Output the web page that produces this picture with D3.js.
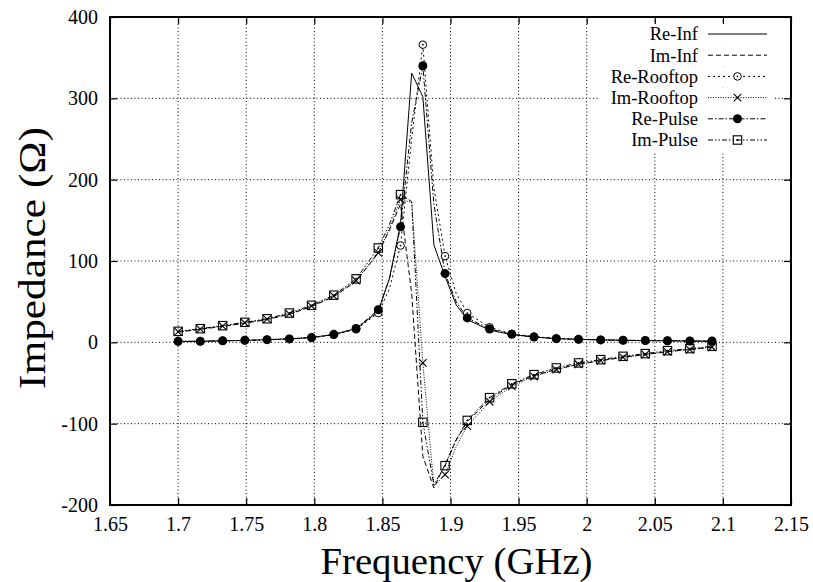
<!DOCTYPE html>
<html>
<head>
<meta charset="utf-8">
<script src="https://cdn.jsdelivr.net/npm/d3@7"></script>
<style>
  body { margin: 0; background: #fff; }
  svg text { font-family: "Liberation Serif", "Times New Roman", serif; fill: #000; }
</style>
</head>
<body>
<svg width="813" height="582"></svg>
<script>
// Data: frequencies (GHz) and impedance (Ohm)
const freq = [1.7, 1.7163, 1.7327, 1.749, 1.7653, 1.7817, 1.798, 1.8143, 1.8307, 1.847,
  1.8552, 1.8633, 1.8715, 1.8797, 1.8878, 1.896, 1.9042, 1.9123, 1.9287, 1.945,
  1.9613, 1.9777, 1.994, 2.0103, 2.0267, 2.043, 2.0593, 2.0757, 2.092];
// frequencies carrying a marker
const markFreq = [1.7, 1.7163, 1.7327, 1.749, 1.7653, 1.7817, 1.798, 1.8143, 1.8307, 1.847,
  1.8633, 1.8797, 1.896, 1.9123, 1.9287, 1.945, 1.9613, 1.9777, 1.994, 2.0103,
  2.0267, 2.043, 2.0593, 2.0757, 2.092];

const reInf = [1, 1.3, 1.8, 2.3, 3.2, 4.3, 6, 9.5, 17, 38, 79, 145, 331, 302, 120, 81, 46, 28, 15, 9.5, 6.5, 4.5, 3.6, 3, 2.5, 2.1, 1.9, 1.6, 1.4];
const imInf = [12.5, 16, 19.5, 23.5, 28, 34.5, 44, 56, 75, 110, 138, 170, 60, -140, -179, -150, -120, -98, -70, -52, -41, -33, -27, -22.5, -18.5, -15, -11.5, -8.8, -6];
const reRooftop = [1.2, 1.3, 1.9, 2.4, 3.2, 4.1, 5.6, 9.2, 16, 36, 66, 119, 250, 366, 190, 106, 60, 36, 18.5, 10.5, 7, 4.8, 3.8, 3.1, 2.6, 2.2, 2, 1.7, 1.5];
const imRooftop = [13, 16.3, 20, 24, 28.5, 35, 44.5, 57, 76, 110, 140, 175.5, 172, -25.3, -177, -162.7, -128, -103, -73, -54, -42, -33.5, -27, -22.5, -18.5, -15, -11.5, -8.8, -6];
const rePulse = [1.2, 1.2, 2, 2.5, 3.3, 4.2, 5.8, 9.8, 17, 40, 78, 142, 270, 340, 170, 84.5, 50, 30, 16.4, 9.8, 6.6, 4.5, 3.7, 3, 2.5, 2.2, 2, 1.6, 1.5];
const imPulse = [13.5, 16.8, 20.5, 24.6, 29, 36, 45.5, 58, 78, 116, 145, 181.6, 173, -98.4, -175, -151.6, -120, -96, -68, -51, -39.7, -31.5, -25.3, -21.3, -17.2, -13.9, -10.2, -7.7, -4.9];

const xTicks = [1.65, 1.7, 1.75, 1.8, 1.85, 1.9, 1.95, 2, 2.05, 2.1, 2.15];
const yTicks = [-200, -100, 0, 100, 200, 300, 400];

const series = [
  { name: "Re-Inf", values: reInf, dash: null, marker: null },
  { name: "Im-Inf", values: imInf, dash: "5,3", marker: null },
  { name: "Re-Rooftop", values: reRooftop, dash: "2,3", marker: "circleDot" },
  { name: "Im-Rooftop", values: imRooftop, dash: "1,1.5", marker: "cross" },
  { name: "Re-Pulse", values: rePulse, dash: "5,2,1.5,2", marker: "disc" },
  { name: "Im-Pulse", values: imPulse, dash: "5,2,1.5,2,1.5,2", marker: "squareDot" }
];

const serif = "Liberation Serif";

const svg = d3.select("svg"),
    margin = { top: 17, right: 22, bottom: 77, left: 110 },
    width = +svg.attr("width") - margin.left - margin.right,
    height = +svg.attr("height") - margin.top - margin.bottom;

const x = d3.scaleLinear().domain([1.65, 2.15]).range([0, width]);
const y = d3.scaleLinear().domain([-200, 400]).range([height, 0]);

const g = svg.append("g").attr("transform", `translate(${margin.left},${margin.top})`);

// Grid
const gridX = xTicks.slice(1, -1), gridY = yTicks.slice(1, -1);
g.append("g").selectAll("line").data(gridX).join("line")
    .attr("x1", d => x(d)).attr("x2", d => x(d))
    .attr("y1", 0).attr("y2", height)
    .attr("stroke", "#000").attr("stroke-width", 1).attr("stroke-dasharray", "1,2.5");
g.append("g").selectAll("line").data(gridY).join("line")
    .attr("x1", 0).attr("x2", width)
    .attr("y1", d => y(d)).attr("y2", d => y(d))
    .attr("stroke", "#000").attr("stroke-width", 1).attr("stroke-dasharray", "1,2.5");

// Axes (ticks inward, mirrored)
const tk = 7;
const fmt = d => String(d);
const axB = g.append("g").attr("transform", `translate(0,${height})`)
    .call(d3.axisBottom(x).tickValues(xTicks).tickSizeInner(-tk).tickSizeOuter(0).tickPadding(12).tickFormat(fmt));
const axT = g.append("g")
    .call(d3.axisTop(x).tickValues(xTicks).tickSizeInner(-tk).tickSizeOuter(0).tickFormat(""));
const axL = g.append("g")
    .call(d3.axisLeft(y).tickValues(yTicks).tickSizeInner(-tk).tickSizeOuter(0).tickPadding(12).tickFormat(fmt));
const axR = g.append("g").attr("transform", `translate(${width},0)`)
    .call(d3.axisRight(y).tickValues(yTicks).tickSizeInner(-tk).tickSizeOuter(0).tickFormat(""));
[axB, axT, axL, axR].forEach(a => {
  a.attr("font-family", serif);
  a.select(".domain").remove();
  a.selectAll("line").attr("stroke", "#000").attr("stroke-width", 1.2);
  a.selectAll("text").attr("font-family", serif).style("font-size", "20px");
});

g.append("rect").attr("width", width).attr("height", height)
    .attr("fill", "none").attr("stroke", "#000").attr("stroke-width", 2);

// Marker drawing
function drawMarker(sel, type, cx, cy) {
  if (type === "circleDot") {
    sel.append("circle").attr("cx", cx).attr("cy", cy).attr("r", 3.8)
      .attr("fill", "#fff").attr("stroke", "#000").attr("stroke-width", 1);
    sel.append("circle").attr("cx", cx).attr("cy", cy).attr("r", 0.9).attr("fill", "#000");
  } else if (type === "cross") {
    const s = 3.8;
    sel.append("path").attr("d", `M${cx - s},${cy - s}L${cx + s},${cy + s}M${cx - s},${cy + s}L${cx + s},${cy - s}`)
      .attr("stroke", "#000").attr("stroke-width", 1.1).attr("fill", "none");
  } else if (type === "disc") {
    sel.append("circle").attr("cx", cx).attr("cy", cy).attr("r", 4.5).attr("fill", "#000");
  } else if (type === "squareDot") {
    const s = 4.2;
    sel.append("rect").attr("x", cx - s).attr("y", cy - s).attr("width", 2 * s).attr("height", 2 * s)
      .attr("fill", "none").attr("stroke", "#000").attr("stroke-width", 1.1);
    sel.append("circle").attr("cx", cx).attr("cy", cy).attr("r", 0.9).attr("fill", "#000");
  }
}

const line = d3.line().x(d => x(d[0])).y(d => y(d[1]));
const plot = g.append("g");

series.forEach(s => {
  const pts = freq.map((f, i) => [f, s.values[i]]);
  plot.append("path").datum(pts)
      .attr("d", line)
      .attr("fill", "none").attr("stroke", "#000").attr("stroke-width", 1)
      .attr("stroke-dasharray", s.dash);
});
series.forEach(s => {
  if (!s.marker) return;
  const mg = plot.append("g");
  freq.forEach((f, i) => {
    if (markFreq.some(m => Math.abs(m - f) < 1e-6)) drawMarker(mg, s.marker, x(f), y(s.values[i]));
  });
});

// Legend
const leg = g.append("g");
const textRight = 588, sampleX0 = 598, sampleX1 = 657, rowY0 = 17, rowStep = 21.2;
series.forEach((s, i) => {
  const yy = rowY0 + i * rowStep;
  leg.append("rect").attr("x", textRight - 100).attr("y", yy - 10).attr("width", 175).attr("height", rowStep)
     .attr("fill", "#fff");
});
series.forEach((s, i) => {
  const yy = rowY0 + i * rowStep;
  leg.append("text").attr("x", textRight).attr("y", yy).attr("dy", "0.35em")
     .attr("text-anchor", "end").attr("font-family", serif).style("font-size", "18.5px").text(s.name);
  leg.append("line").attr("x1", sampleX0).attr("x2", sampleX1).attr("y1", yy).attr("y2", yy)
     .attr("stroke", "#000").attr("stroke-width", 1).attr("stroke-dasharray", s.dash);
  if (s.marker) drawMarker(leg, s.marker, (sampleX0 + sampleX1) / 2, yy);
});

// Axis titles
svg.append("text")
    .attr("x", margin.left + width / 2 + 6).attr("y", 574)
    .attr("text-anchor", "middle").attr("font-family", serif).style("font-size", "38px")
    .attr("textLength", 272).attr("lengthAdjust", "spacingAndGlyphs")
    .text("Frequency (GHz)");
svg.append("text")
    .attr("transform", `translate(45,${margin.top + height / 2 - 3}) rotate(-90)`)
    .attr("text-anchor", "middle").attr("font-family", serif).style("font-size", "38px")
    .attr("textLength", 262).attr("lengthAdjust", "spacingAndGlyphs")
    .text("Impedance (Ω)");
</script>
</body>
</html>
